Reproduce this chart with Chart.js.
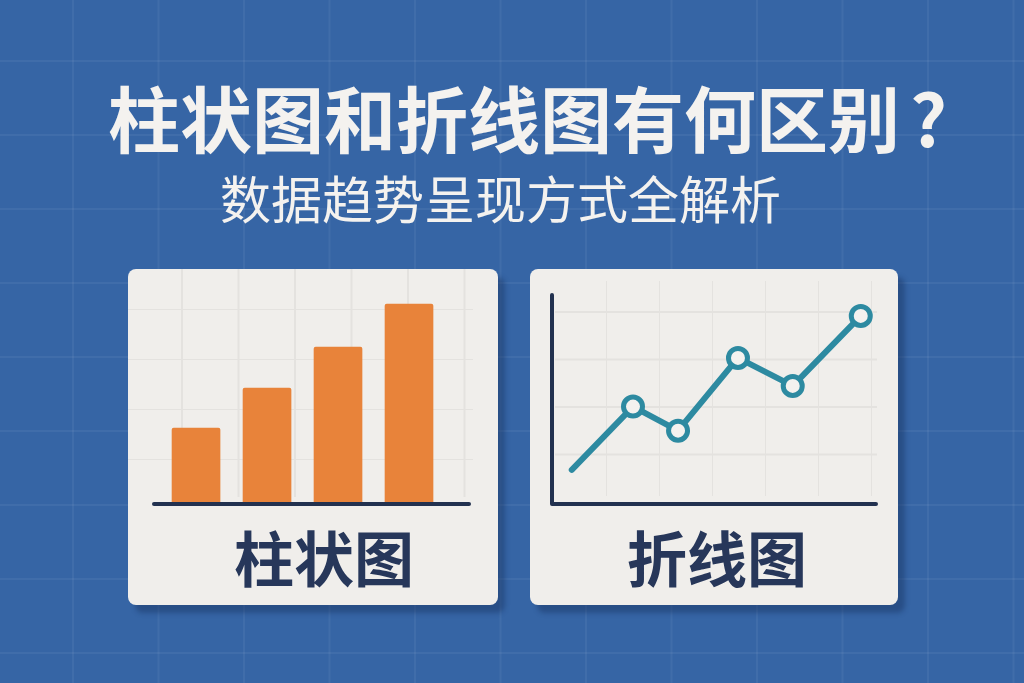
<!DOCTYPE html>
<html>
<head>
<meta charset="utf-8">
<script src="https://cdn.jsdelivr.net/npm/chart.js@4.4.1/dist/chart.umd.min.js"></script>
<style>
  html, body { margin: 0; padding: 0; }
  body {
    width: 1024px; height: 683px; overflow: hidden; position: relative;
    background-color: #3665a5;
    background-image:
      linear-gradient(90deg, rgba(255,255,255,0.05) 1.5px, transparent 1.5px),
      linear-gradient(0deg, rgba(255,255,255,0.05) 1.5px, transparent 1.5px);
    background-size: 85.5px 74px;
    background-position: 72px 62px;
    font-family: "Noto Sans CJK SC", "Noto Sans", sans-serif;
  }
  .title {
    position: absolute; left: 108px; top: 80px; white-space: nowrap;
    font-size: 72px; font-weight: 700; line-height: 1; color: #f4f2ef;
  }
  .title .q { margin-left: 10px; }
  .subtitle {
    position: absolute; left: 220px; top: 172px; white-space: nowrap;
    font-size: 51px; font-weight: 400; line-height: 1; color: #f4f2ef;
  }
  .card {
    position: absolute; top: 269px; height: 336px;
    background: #f0eeeb; border-radius: 8px;
    box-shadow: 7px 8px 5px rgba(24, 52, 98, 0.45);
  }
  .grid {
    position: absolute;
    background-image:
      linear-gradient(90deg, #e4e2df 1.5px, transparent 1.5px),
      linear-gradient(0deg, #e4e2df 1.5px, transparent 1.5px);
  }
  .card canvas { position: absolute; left: 0; top: 0; }
  .label {
    position: absolute; top: 257px; white-space: nowrap;
    font-size: 60px; font-weight: 700; line-height: 1; color: #27375a;
  }
</style>
</head>
<body>
<div class="title">柱状图和折线图有何区别<span class="q">?</span></div>
<div class="subtitle">数据趋势呈现方式全解析</div>

<div class="card" style="left:128px; width:370px;">
  <div class="grid" style="left:0; top:0; width:345px; height:228px; background-size:56.5px 50px; background-position:53px 41px;"></div>
  <canvas id="bars" width="370" height="336"></canvas>
  <div class="label" style="left:106px;">柱状图</div>
</div>

<div class="card" style="left:530px; width:368px;">
  <div class="grid" style="left:25px; top:12px; width:322px; height:215px; background-size:53px 47.5px; background-position:51px 32px;"></div>
  <canvas id="lines" width="368" height="336"></canvas>
  <div class="label" style="left:97px;">折线图</div>
</div>

<script>
// bar chart data
const barLabels = ['1', '2', '3', '4'];
const barPos = [1, 2, 3, 4];
const barValues = [3.8, 5.8, 7.85, 10];

// line chart data
const lineX = [0.61, 2.5, 3.89, 5.74, 7.43, 9.53];
const lineY = [1.63, 4.66, 3.51, 6.99, 5.65, 9.0];

const navy = '#22314f';
const orange = '#e8833a';
const teal = '#2d8aa1';

// draws the x baseline (and y axis for the line chart) from the chart area
const axisLines = {
  id: 'axisLines',
  afterDatasetsDraw(chart, args, opts) {
    let a = chart.chartArea;
    let ctx = chart.ctx;
    ctx.save();
    ctx.strokeStyle = navy;
    ctx.lineWidth = 4;
    ctx.lineCap = 'round';
    ctx.lineJoin = 'round';
    ctx.beginPath();
    let y0 = chart.scales.y.getPixelForValue(0);
    if (opts.left) {
      ctx.moveTo(a.left, a.top);
      ctx.lineTo(a.left, y0);
    } else {
      ctx.moveTo(a.left, y0);
    }
    ctx.lineTo(a.right, y0);
    ctx.stroke();
    ctx.restore();
  }
};

let barData = barPos.map((p, i) => ({x: p, y: barValues[i]}));

new Chart(document.getElementById('bars').getContext('2d'), {
  type: 'bar',
  data: {
    labels: barLabels,
    datasets: [{
      data: barData,
      backgroundColor: orange,
      borderRadius: 2,
      barThickness: 48
    }]
  },
  options: {
    responsive: false,
    animation: false,
    layout: { padding: { left: 26, right: 29, top: 15, bottom: 101 } },
    scales: {
      x: { type: 'linear', display: false, offset: false, min: 0.408, max: 4.845 },
      y: { display: false, min: 0, max: 11 }
    },
    plugins: {
      legend: { display: false },
      tooltip: { enabled: false },
      axisLines: { left: false }
    }
  },
  plugins: [axisLines]
});

let lineData = lineX.map((x, i) => ({x: x, y: lineY[i]}));

new Chart(document.getElementById('lines').getContext('2d'), {
  type: 'line',
  data: {
    datasets: [{
      data: lineData,
      borderColor: teal,
      borderWidth: 6,
      borderCapStyle: 'round',
      borderJoinStyle: 'round',
      pointRadius: ctx => ctx.dataIndex === 0 ? 0 : 9.5,
      pointBorderWidth: 5,
      pointBorderColor: teal,
      pointBackgroundColor: '#f4f2ef',
      tension: 0,
      clip: false
    }]
  },
  options: {
    responsive: false,
    animation: false,
    layout: { padding: { left: 22, right: 22, top: 26, bottom: 101 } },
    scales: {
      x: { type: 'linear', display: false, min: 0, max: 10 },
      y: { display: false, min: 0, max: 10 }
    },
    plugins: {
      legend: { display: false },
      tooltip: { enabled: false },
      axisLines: { left: true }
    }
  },
  plugins: [axisLines]
});
</script>
</body>
</html>
